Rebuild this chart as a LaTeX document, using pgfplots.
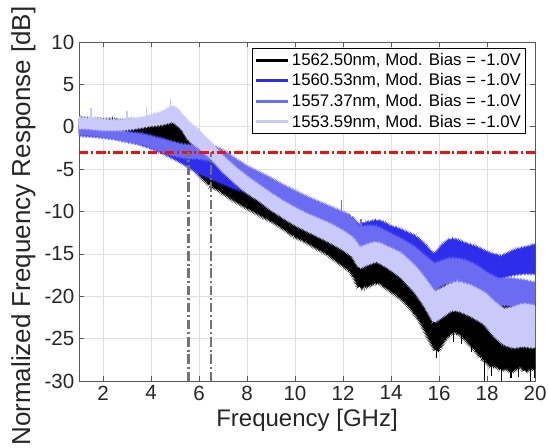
\documentclass[border=0pt]{standalone}
\usepackage{pgfplots}
\pgfplotsset{compat=1.18}
\usetikzlibrary{decorations.pathmorphing}
\usepackage{fontspec}
\setmainfont{Liberation Sans}
\definecolor{cK}{RGB}{0,0,0}
\definecolor{cA}{RGB}{45,45,235}
\definecolor{cB}{RGB}{108,108,242}
\definecolor{cC}{RGB}{202,202,250}
\definecolor{cRed}{RGB}{232,20,20}
\definecolor{cGray}{RGB}{115,115,115}
\tikzset{
  noisy/.style 2 args={draw=none, fill=#1, postaction={draw=#1, line width=0.5pt, decorate,
    decoration={zigzag, segment length=1.1pt, amplitude=#2}}},
  dashdot/.style={dash pattern=on 7pt off 2.2pt on 1.5pt off 2.2pt},
}
\begin{document}
\begin{tikzpicture}
\begin{axis}[name=ax, at={(0,0)}, anchor=south west,
  width=342pt, height=254.25pt, scale only axis,
  xmin=1, xmax=20, ymin=-30, ymax=10,
  xtick={2,4,...,20}, ytick={-30,-25,...,10},
  tick pos=both, tick align=inside, major tick length=4pt,
  grid=major, major grid style={color=black!12, line width=0.4pt},
  axis line style={black!65, line width=0.5pt},
  every tick/.style={black!65, line width=0.5pt},
  /pgf/number format/assume math mode=true,
  tick label style={font=\fontsize{15.4}{18}\selectfont, text=black!85},
  xlabel={Frequency [GHz]}, ylabel={Normalized Frequency Response [dB]},
  xlabel style={font=\fontsize{18}{21}\selectfont, text=black!85},
  ylabel style={font=\fontsize{19.5}{22}\selectfont, text=black!85, at={(ticklabel cs:0.457)}},
  legend style={at={(0.98,0.982)}, anchor=north east, draw=black, line width=0.5pt,
    fill=white, font=\fontsize{12.6}{14}\selectfont, inner sep=1.5pt, row sep=0.8pt},
  legend cell align=left,
  legend image code/.code={\draw[#1, line width=2.2pt] (0pt,0pt) -- (24pt,0pt);},
]
\addlegendimage{cK}
\addlegendentry{1562.50nm, Mod. Bias = -1.0V}
\addlegendimage{cA}
\addlegendentry{1560.53nm, Mod. Bias = -1.0V}
\addlegendimage{cB}
\addlegendentry{1557.37nm, Mod. Bias = -1.0V}
\addlegendimage{cC}
\addlegendentry{1553.59nm, Mod. Bias = -1.0V}

% 1562.50 nm band (upper envelope, then lower envelope reversed)
\addplot[forget plot, noisy={cK}{1.6pt}] coordinates {
(1.0,0.9)(1.3,0.7)(1.6,0.8)(2.0,0.6)(2.4,0.7)(2.8,0.5)(3.2,0.6)(3.6,0.4)(4.0,0.5)(4.3,0.2)(4.5,0.5)(4.7,0.3)(4.9,0.7)(5.1,0.2)(5.3,-0.7)(5.5,-1.8)(5.8,-2.8)(6.0,-3.4)(6.2,-4.0)(6.5,-4.9)(6.8,-5.4)(7.0,-6.0)(7.3,-6.4)(7.5,-7.0)(7.8,-7.4)(8.0,-8.0)(8.3,-8.3)(8.5,-8.8)(8.8,-9.1)(9.0,-9.6)(9.3,-9.9)(9.5,-10.5)(9.8,-10.8)(10.0,-11.4)(10.3,-11.6)(10.5,-12.1)(10.8,-12.3)(11.0,-12.8)(11.3,-13.0)(11.5,-13.5)(11.8,-13.7)(12.0,-14.0)(12.2,-14.2)(12.4,-14.0)(12.6,-14.3)(12.7,-14.1)(12.9,-13.8)(13.1,-13.6)(13.4,-13.4)(13.7,-13.8)(14.0,-14.2)(14.4,-14.7)(14.7,-15.3)(15.0,-16.2)(15.2,-16.8)(15.4,-17.6)(15.6,-18.5)(15.8,-19.2)(16.0,-19.0)(16.2,-18.6)(16.5,-18.2)(16.8,-18.0)(17.1,-18.2)(17.4,-18.5)(17.7,-19.1)(17.9,-19.4)(18.1,-20.0)(18.3,-20.4)(18.5,-20.8)(18.7,-21.2)(18.9,-21.2)(19.1,-21.0)(19.3,-20.8)(19.5,-20.6)(19.7,-20.6)(20.0,-20.8)
(20.0,-28.6)(19.8,-28.2)(19.6,-28.8)(19.4,-28.0)(19.2,-28.4)(19.0,-28.8)(18.8,-28.2)(18.6,-28.6)(18.4,-28.0)(18.2,-28.2)(18.0,-27.6)(17.8,-27.2)(17.6,-26.4)(17.4,-25.8)(17.2,-25.2)(17.0,-24.6)(16.8,-24.2)(16.6,-24.0)(16.4,-24.4)(16.2,-25.0)(16.0,-26.0)(15.9,-26.4)(15.8,-25.8)(15.6,-24.8)(15.4,-23.6)(15.2,-22.6)(15.0,-21.8)(14.7,-20.8)(14.4,-20.0)(14.1,-19.4)(13.8,-18.8)(13.5,-18.2)(13.2,-18.4)(12.9,-18.8)(12.7,-18.9)(12.5,-17.6)(12.3,-16.8)(12.0,-16.2)(11.7,-15.6)(11.4,-14.9)(11.0,-14.3)(10.7,-13.8)(10.4,-13.3)(10.0,-12.8)(9.7,-12.2)(9.4,-11.6)(9.0,-10.9)(8.7,-10.5)(8.4,-10.0)(8.0,-9.4)(7.7,-8.9)(7.4,-8.4)(7.0,-7.6)(6.7,-7.1)(6.5,-6.8)(6.2,-6.0)(6.0,-5.4)(5.8,-4.6)(5.5,-3.4)(5.3,-2.6)(5.1,-2.0)(4.9,-1.8)(4.6,-1.6)(4.3,-1.3)(4.0,-0.8)(3.5,-0.6)(3.0,-0.5)(2.5,-0.5)(2.0,-0.5)(1.5,-0.4)(1.0,-0.3)
} -- cycle;
\addplot[forget plot, cK, line width=0.8pt, unbounded coords=jump] coordinates {
(15.9,-25.5)(15.9,-27.3)(15.92,nan)(16.6,-23.5)(16.6,-25.4)(16.62,nan)(16.95,-24)(16.95,-25.6)(16.97,nan)
(17.35,-25)(17.35,-26.6)(17.37,nan)(17.9,-27)(17.9,-30)(17.92,nan)(18.2,-27.5)(18.2,-29.4)(18.22,nan)
(18.6,-28)(18.6,-30)(18.62,nan)(19.0,-28)(19.0,-29.6)(19.02,nan)(19.3,-28)(19.3,-29.5)(19.32,nan)
(19.8,-28)(19.8,-30)(19.82,nan)(20.0,-28)(20.0,-29.6)
};

% 1560.53 nm band
\addplot[forget plot, noisy={cA}{1.2pt}] coordinates {
(1.0,0.1)(1.3,0.0)(1.6,-0.1)(2.0,-0.3)(2.4,-0.4)(2.8,-0.6)(3.2,-0.8)(3.6,-0.9)(4.0,-1.2)(4.3,-1.4)(4.6,-1.7)(5.0,-2.2)(5.3,-2.6)(5.5,-2.9)(5.8,-3.4)(6.0,-3.6)(6.3,-4.0)(6.5,-4.2)(6.8,-4.4)(7.0,-4.6)(7.5,-5.0)(8.0,-5.6)(8.5,-6.2)(9.0,-6.8)(9.5,-7.6)(10.0,-8.4)(10.5,-9.0)(11.0,-9.6)(11.5,-10.1)(11.9,-10.5)(12.0,-10.4)(12.3,-10.7)(12.5,-11.3)(12.7,-11.8)(12.9,-11.4)(13.2,-11.3)(13.4,-11.1)(13.7,-11.4)(14.0,-11.9)(14.3,-12.1)(14.6,-12.5)(15.0,-13.0)(15.2,-13.5)(15.4,-14.0)(15.6,-14.7)(15.8,-15.2)(16.0,-14.6)(16.2,-13.9)(16.5,-13.3)(16.8,-13.5)(17.1,-13.9)(17.4,-14.1)(17.7,-14.5)(18.0,-14.9)(18.3,-15.2)(18.6,-15.4)(18.9,-15.0)(19.2,-14.6)(19.5,-14.4)(19.8,-14.2)(20.0,-14.0)
(20.0,-17.2)(19.5,-17.2)(19.0,-17.4)(18.5,-17.8)(18.0,-17.6)(17.5,-16.8)(17.0,-16.4)(16.5,-16.0)(16.1,-16.8)(15.8,-17.4)(15.4,-16.0)(15.0,-15.0)(14.5,-14.2)(14.0,-13.6)(13.4,-13.2)(13.0,-13.4)(12.7,-13.8)(12.3,-13.0)(12.0,-12.6)(11.5,-12.0)(11.0,-11.4)(10.5,-10.8)(10.0,-10.2)(9.5,-9.6)(9.0,-8.8)(8.5,-8.2)(8.0,-7.6)(7.5,-7.2)(7.0,-6.6)(6.5,-6.0)(6.0,-5.4)(5.5,-4.5)(5.0,-3.7)(4.5,-3.0)(4.0,-2.4)(3.5,-1.9)(3.0,-1.6)(2.5,-1.3)(2.0,-1.1)(1.5,-1.0)(1.0,-0.9)
} -- cycle;

% 1557.37 nm band
\addplot[forget plot, noisy={cB}{1.2pt}] coordinates {
(1.0,0.1)(1.3,-0.1)(1.6,0.0)(2.0,-0.3)(2.4,-0.4)(2.8,-0.6)(3.2,-0.9)(3.6,-1.0)(4.0,-1.3)(4.3,-1.5)(4.6,-1.7)(5.0,-2.0)(5.3,-2.2)(5.6,-2.3)(6.0,-2.3)(6.3,-2.2)(6.6,-2.4)(7.0,-2.9)(7.5,-3.9)(8.0,-4.8)(8.5,-5.5)(9.0,-6.2)(9.5,-7.0)(10.0,-7.7)(10.5,-8.4)(11.0,-9.0)(11.5,-9.6)(12.0,-10.2)(12.3,-10.6)(12.5,-11.4)(12.7,-12.0)(13.0,-11.8)(13.4,-11.9)(14.0,-12.8)(14.5,-13.5)(15.0,-14.4)(15.4,-15.4)(15.8,-16.3)(16.1,-16.0)(16.5,-15.6)(17.0,-15.8)(17.5,-16.4)(18.0,-17.4)(18.5,-18.1)(19.0,-18.0)(19.5,-18.2)(20.0,-18.5)
(20.0,-21.4)(19.5,-21.2)(19.0,-21.0)(18.5,-20.9)(18.0,-20.2)(17.5,-19.2)(17.0,-18.6)(16.5,-18.2)(16.1,-18.6)(15.8,-19.2)(15.4,-17.8)(15.0,-16.6)(14.5,-15.4)(14.0,-14.6)(13.4,-14.0)(13.0,-13.9)(12.7,-14.2)(12.3,-12.8)(12.0,-12.3)(11.5,-11.6)(11.0,-11.0)(10.5,-10.3)(10.0,-9.6)(9.5,-8.9)(9.0,-8.1)(8.5,-7.4)(8.0,-6.7)(7.5,-5.7)(7.0,-4.6)(6.5,-3.9)(6.0,-3.6)(5.5,-3.6)(5.0,-3.3)(4.5,-2.9)(4.0,-2.3)(3.5,-1.9)(3.0,-1.6)(2.5,-1.3)(2.0,-1.1)(1.5,-0.9)(1.0,-0.8)
} -- cycle;
\addplot[forget plot, cB, line width=0.8pt, unbounded coords=jump] coordinates {
(11.95,-10.2)(11.95,-8.7)(11.97,nan)(12.75,-12)(12.75,-10.9)
};

% 1553.59 nm band
\addplot[forget plot, noisy={cC}{1.0pt}] coordinates {
(1.0,1.0)(1.3,0.9)(1.6,0.9)(2.0,0.8)(2.4,0.7)(2.8,0.7)(3.2,0.9)(3.6,1.0)(4.0,1.3)(4.4,1.6)(4.7,2.0)(4.9,2.4)(5.1,2.0)(5.3,1.3)(5.6,0.4)(6.0,-0.6)(6.5,-2.0)(7.0,-3.6)(7.5,-4.9)(8.0,-6.0)(8.5,-7.0)(9.0,-8.0)(9.5,-8.9)(10.0,-9.7)(10.5,-10.4)(11.0,-11.0)(11.5,-11.6)(12.0,-12.4)(12.4,-13.2)(12.7,-14.4)(13.0,-14.0)(13.4,-13.7)(13.8,-14.2)(14.4,-15.0)(15.0,-16.6)(15.4,-18.0)(15.8,-19.6)(16.1,-19.2)(16.5,-18.6)(16.8,-18.4)(17.3,-18.8)(17.9,-19.7)(18.3,-20.8)(18.7,-21.6)(19.1,-21.4)(19.5,-21.0)(20.0,-21.2)
(20.0,-26.0)(19.5,-25.8)(19.1,-26.0)(18.7,-25.6)(18.3,-24.6)(17.9,-23.2)(17.3,-22.2)(16.8,-21.6)(16.5,-21.6)(16.1,-22.4)(15.8,-23.0)(15.4,-21.0)(15.0,-19.4)(14.4,-17.6)(13.8,-16.4)(13.4,-15.8)(13.0,-16.2)(12.7,-16.6)(12.4,-15.2)(12.0,-14.4)(11.5,-13.6)(11.0,-12.9)(10.5,-12.2)(10.0,-11.5)(9.5,-10.6)(9.0,-9.7)(8.5,-8.6)(8.0,-7.7)(7.5,-6.5)(7.0,-5.2)(6.5,-3.6)(6.0,-2.4)(5.6,-1.5)(5.3,-0.2)(5.1,0.3)(4.9,0.7)(4.7,0.5)(4.4,0.3)(4.0,0.2)(3.6,0.0)(3.2,-0.2)(2.8,-0.3)(2.4,-0.3)(2.0,-0.3)(1.6,-0.2)(1.3,-0.1)(1.0,-0.1)
} -- cycle;
\addplot[forget plot, cC, line width=0.9pt, unbounded coords=jump] coordinates {
(1.5,0.8)(1.5,2.2)(1.52,nan)(3.0,0.7)(3.0,1.9)(3.02,nan)(3.8,1.1)(3.8,2.3)(3.82,nan)(4.8,2.1)(4.8,3.3)(4.82,nan)(6.0,-0.7)(6.0,-0.1)
};

% -3 dB line and bandwidth markers
\addplot[forget plot, cRed, line width=2.1pt, dashdot] coordinates {(1,-3)(20,-3)};
\addplot[forget plot, cGray, line width=2.2pt, dashdot] coordinates {(5.55,-30)(5.55,-3)};
\addplot[forget plot, cGray, line width=2.2pt, dashdot] coordinates {(6.5,-30)(6.5,-3)};
\end{axis}
\pgfresetboundingbox
\path[use as bounding box] ([shift={(-59.25pt,-49.5pt)}]ax.south west) rectangle ([shift={(9.75pt,31.5pt)}]ax.north east);
\end{tikzpicture}
\end{document}
